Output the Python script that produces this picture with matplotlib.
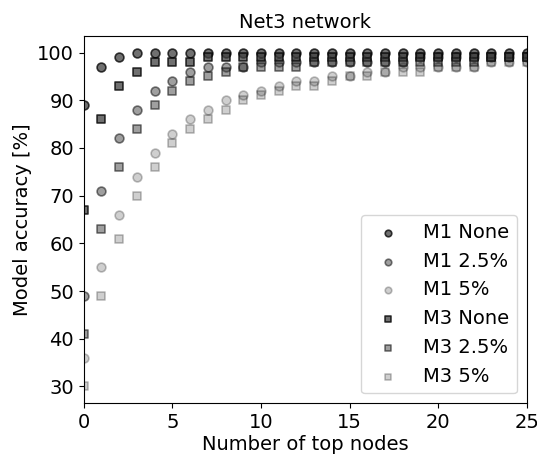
import numpy as np
import matplotlib
matplotlib.use('Agg')
import matplotlib.pyplot as plt

nodes = np.arange(0, 26)

m1_none = [89, 97, 99, 100, 100, 100, 100, 100, 100, 100, 100, 100, 100,
           100, 100, 100, 100, 100, 100, 100, 100, 100, 100, 100, 100, 100]
m1_25 = [49, 71, 82, 88, 92, 94, 96, 97, 97, 97, 98, 98, 98,
         98, 98, 98, 98, 98, 98, 99, 99, 99, 99, 99, 99, 99]
m1_5 = [36, 55, 66, 74, 79, 83, 86, 88, 90, 91, 92, 93, 94,
        94, 95, 95, 96, 96, 97, 97, 97, 97, 97, 98, 98, 98]
m3_none = [67, 86, 93, 96, 98, 98, 98, 99, 99, 99, 99, 99, 99,
           99, 99, 99, 99, 99, 99, 99, 99, 99, 99, 99, 99, 99]
m3_25 = [41, 63, 76, 84, 89, 92, 94, 95, 96, 97, 97, 97, 97,
         98, 98, 98, 98, 98, 98, 98, 98, 98, 98, 99, 99, 99]
m3_5 = [30, 49, 61, 70, 76, 81, 84, 86, 88, 90, 91, 92, 93,
        93, 94, 95, 95, 96, 96, 96, 97, 97, 97, 98, 98, 98]

series = [
    ('M1 None', m1_none, 'o', 0.75),
    ('M1 2.5%', m1_25, 'o', 0.5),
    ('M1 5%', m1_5, 'o', 0.25),
    ('M3 None', m3_none, 's', 0.75),
    ('M3 2.5%', m3_25, 's', 0.5),
    ('M3 5%', m3_5, 's', 0.25),
]

fig = plt.figure(figsize=(5.37, 4.54), dpi=100)
ax = fig.add_axes([0.156, 0.112, 0.825, 0.809])

for label, vals, mk, a in series:
    ax.scatter(nodes, vals, marker=mk, s=40, facecolor='#404040',
               edgecolor='k', linewidth=1.2, alpha=a, label=label)

ax.set_xlim(0, 25)
ax.set_ylim(26.5, 103.5)
ax.set_xticks([0, 5, 10, 15, 20, 25])
ax.set_yticks(np.arange(30, 101, 10))
ax.tick_params(labelsize=14)
ax.set_xlabel('Number of top nodes', fontsize=14, labelpad=2)
ax.set_ylabel('Model accuracy [%]', fontsize=14)
ax.set_title('Net3 network', fontsize=14)
ax.legend(loc='lower right', fontsize=14, markerscale=0.75)

fig.savefig('out.png', dpi=100)
